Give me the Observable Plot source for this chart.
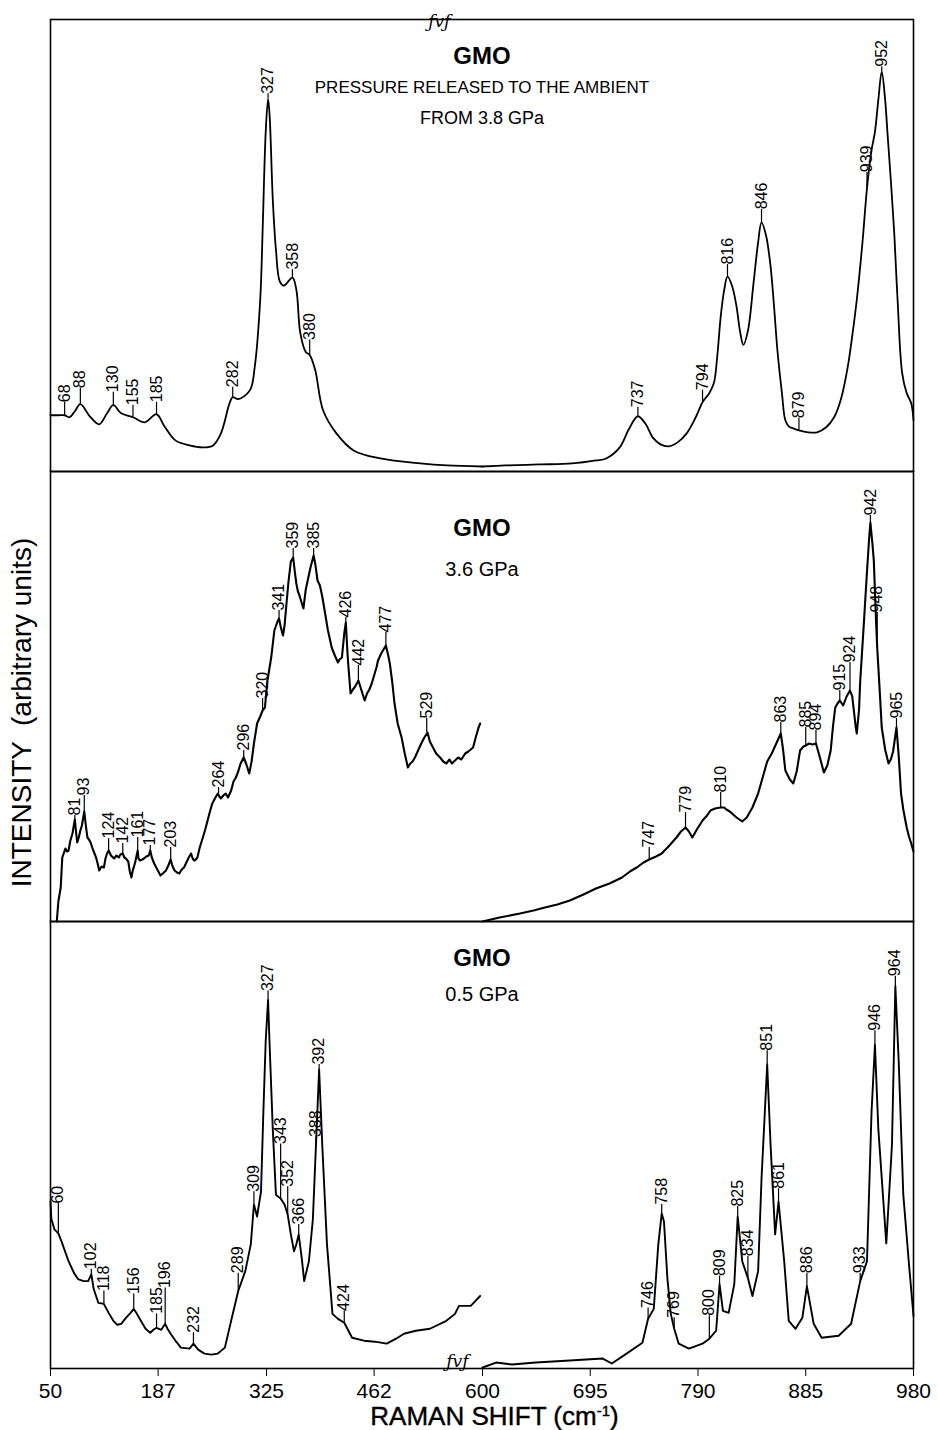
<!DOCTYPE html>
<html>
<head>
<meta charset="utf-8">
<script src="https://cdn.jsdelivr.net/npm/d3@7"></script>
<script src="https://cdn.jsdelivr.net/npm/@observablehq/plot@0.6"></script>
<style>
  body { margin: 0; background: #fff; }
  #chart { width: 938px; font-family: "Liberation Sans", Arial, sans-serif; color: #000; }
  #chart svg { display: block; overflow: visible; }
  #chart svg g[aria-label^="x-axis"] line { stroke-width: 1.6px; }
  #xlabel { height: 27px; line-height: 27px; font-size: 26px; margin-left: 76px; width: 837px; text-align: center; white-space: nowrap; -webkit-text-stroke: 0.4px #000; }
  #xlabel sup { font-size: 15px; line-height: 0; vertical-align: 9px; }
</style>
</head>
<body>
<div id="chart"></div>
<script>
// ---------- axis ----------
const xTicks = [50, 187, 325, 462, 600, 695, 790, 885, 980];
const xBreak = [50, 600, 980]; // broken axis: 50–600 | 600–980

// ---------- panel texts ----------
const panelNames = ["GMO", "GMO", "GMO"];
const ambientLines = ["PRESSURE RELEASED TO THE AMBIENT", "FROM 3.8 GPa"];
const midLine = "3.6 GPa";
const lowLine = "0.5 GPa";
const yLabel = "INTENSITY  (arbitrary units)";

// ---------- spectrum 1: pressure released to ambient from 3.8 GPa ----------
const ambientLow = [[50,56],[60,56],[68,56],[74,54],[81,60],[88,67],[100,55],[112,47],[122,58],[130,66],[140,58],[155,54],[170,49],[185,57],[195,45],[209,31],[227,26],[244,24],[257,26],[267,38],[278,68],[282,74],[289,72],[304,81],[310,104],[317,171],[320,238],[324,338],[327,371],[329,354],[333,271],[337,221],[342,189],[347,185],[358,193],[363,181],[368,138],[375,119],[380,116],[387,101],[397,61],[414,38],[436,21],[470,13],[521,8],[555,6],[600,5]];
const ambientHigh = [[600,5],[620,6],[650,7],[679,8],[700,11],[709,13],[721,24],[729,42],[737,55],[744,47],[750,34],[757,27],[764,25],[772,29],[780,38],[788,54],[794,69],[800,78],[804,88],[807,115],[810,154],[813,180],[816,194],[820,185],[824,164],[827,140],[830,126],[834,140],[839,188],[843,228],[846,248],[850,235],[854,204],[857,165],[860,121],[864,78],[867,51],[870,45],[874,43],[879,41],[887,39],[895,39],[903,44],[910,54],[916,72],[922,104],[926,135],[930,171],[935,228],[939,282],[943,320],[946,338],[949,370],[952,398],[955,370],[957,338],[960,290],[963,238],[966,170],[970,98],[974,78],[978,68],[980,51]];
const ambientPeaks = [[68,56,69],[88,67,83],[130,66,79],[155,54,66],[185,57,69],[282,74,84],[327,371,376],[358,193,201],[380,116,131],[737,55,64],[794,69,81],[816,194,206],[846,248,261],[879,41,53],[939,282,298],[952,398,403]];

// ---------- spectrum 2: 3.6 GPa ----------
const gpa36Low = [[58,0],[60,20],[63,34],[65,64],[69,73],[71,70],[73,71],[75,80],[78,88],[81,102],[83,86],[84,79],[86,84],[88,91],[90,96],[93,110],[95,96],[97,84],[99,82],[101,79],[104,72],[108,64],[110,58],[112,51],[115,55],[118,54],[120,63],[122,68],[124,71],[127,66],[131,63],[134,66],[137,64],[139,67],[142,68],[144,64],[146,63],[149,60],[151,50],[153,44],[155,52],[156,54],[158,60],[161,71],[162,63],[164,61],[167,62],[169,63],[172,65],[175,66],[177,71],[179,64],[182,58],[186,52],[190,46],[193,48],[197,51],[200,56],[203,62],[205,56],[208,51],[211,49],[214,48],[217,52],[220,54],[223,59],[226,64],[229,68],[231,63],[233,61],[235,62],[237,64],[240,74],[244,84],[247,92],[250,101],[253,110],[256,118],[260,124],[263,128],[265,125],[267,123],[270,126],[273,128],[276,124],[280,131],[283,140],[286,144],[289,150],[292,158],[296,164],[299,158],[303,148],[306,160],[309,178],[313,198],[317,205],[320,211],[323,214],[326,240],[331,264],[335,291],[339,300],[341,303],[343,295],[346,286],[348,296],[350,314],[353,340],[356,360],[359,364],[361,350],[363,338],[365,330],[367,326],[370,318],[372,313],[375,332],[378,343],[381,354],[385,366],[387,358],[390,341],[393,336],[396,325],[399,311],[403,292],[408,274],[412,266],[416,259],[418,262],[421,264],[424,288],[426,299],[428,270],[429,258],[432,228],[435,232],[437,234],[440,238],[442,241],[444,236],[446,231],[448,226],[450,221],[453,228],[456,232],[459,238],[462,246],[465,254],[467,261],[471,268],[474,272],[477,276],[480,266],[482,258],[485,240],[488,218],[492,198],[497,184],[501,168],[505,154],[508,158],[511,160],[514,164],[518,171],[522,178],[526,184],[530,189],[533,180],[537,174],[541,168],[546,164],[550,160],[554,158],[558,162],[561,158],[565,161],[569,164],[573,162],[578,168],[582,170],[585,172],[588,174],[591,183],[595,194],[597,198]];
const gpa36High = [[600,0],[615,4],[633,8],[645,11],[655,14],[666,17],[677,21],[689,27],[700,33],[712,38],[723,44],[730,50],[736,54],[742,59],[747,62],[753,65],[758,68],[764,75],[771,84],[775,90],[779,94],[782,90],[785,84],[789,92],[794,101],[798,106],[801,111],[805,113],[810,114],[813,114],[815,112],[818,110],[820,108],[824,104],[829,100],[833,104],[838,114],[843,128],[848,148],[851,160],[855,168],[859,178],[863,188],[865,172],[867,151],[871,142],[874,138],[877,150],[880,171],[883,175],[885,176],[888,178],[891,177],[894,178],[897,166],[901,149],[904,156],[907,171],[909,195],[911,214],[913,218],[915,221],[918,216],[921,225],[924,231],[926,225],[927,215],[929,195],[930,188],[932,212],[933,240],[936,294],[939,350],[941,385],[942,399],[944,375],[945,361],[947,300],[948,274],[950,235],[952,194],[955,172],[958,158],[960,162],[962,170],[965,194],[967,165],[969,128],[971,112],[974,94],[976,85],[978,78],[980,70]];
const gpa36Peaks = [[81,102,106],[93,110,126],[124,71,83],[142,68,78],[161,71,84],[177,71,76],[203,62,74],[264,128,134],[296,164,171],[320,211,223],[341,303,311],[359,364,373],[385,366,373],[426,299,304],[442,241,256],[477,276,289],[529,189,203],[747,62,74],[779,94,109],[810,114,129],[863,188,199],[885,176,194],[894,178,191],[915,221,231],[924,231,259],[942,399,406],[948,274,309],[965,194,203]];

// ---------- spectrum 3: 0.5 GPa ----------
const gpa05Low = [[50,168],[51,151],[55,140],[60,136],[64,128],[73,108],[80,96],[85,90],[92,88],[98,88],[102,95],[105,80],[111,66],[118,65],[124,56],[130,48],[135,44],[140,45],[146,51],[152,56],[156,60],[160,55],[165,48],[171,40],[177,36],[181,39],[185,41],[191,39],[196,45],[199,40],[203,35],[210,27],[216,21],[227,20],[232,25],[238,19],[246,15],[255,14],[263,15],[272,21],[280,48],[289,78],[298,98],[305,125],[309,165],[313,153],[318,178],[321,258],[324,330],[327,371],[329,325],[333,241],[337,175],[343,171],[348,165],[352,155],[356,135],[360,118],[363,125],[366,135],[370,110],[373,88],[379,108],[384,150],[388,225],[392,301],[396,225],[402,125],[409,55],[416,50],[424,46],[434,31],[449,28],[463,27],[478,25],[490,30],[500,35],[515,38],[533,40],[554,48],[565,55],[570,63],[585,63],[597,73]];
const gpa05High = [[600,1],[612,6],[626,4],[647,6],[677,8],[706,10],[714,5],[727,15],[741,26],[746,50],[751,60],[755,125],[758,156],[760,148],[763,91],[766,55],[769,40],[773,25],[782,20],[794,25],[800,30],[806,38],[809,85],[812,58],[817,56],[822,85],[825,153],[829,108],[834,91],[838,73],[843,98],[846,191],[851,306],[854,225],[858,135],[861,168],[866,108],[870,48],[876,40],[882,51],[886,83],[892,45],[899,31],[914,33],[925,45],[933,88],[939,108],[943,258],[946,326],[949,241],[956,126],[961,225],[964,385],[967,308],[971,175],[976,105],[980,53]];
const gpa05Peaks = [[60,136,166],[102,95,100],[118,65,78],[156,60,75],[185,41,55],[196,45,81],[232,25,36],[289,78,96],[309,165,178],[327,371,380],[343,171,226],[352,155,183],[366,135,145],[388,225,233],[392,301,306],[424,46,58],[746,50,61],[758,156,165],[769,40,51],[800,30,53],[809,85,93],[825,153,163],[834,91,113],[851,306,320],[861,168,181],[886,83,96],[933,88,96],[946,326,340],[964,385,395]];

// axis-break glyph positions (wavenumber on the left branch)
const breakTop = [545];
const breakBottom = [568];

// ---------- helpers ----------
const rowsOf = (low, high) => [
  ...low.map(([x, y]) => ({x, y, seg: "low"})),
  ...high.map(([x, y]) => ({x, y, seg: "high"}))
];

function peakMarks(peaks) {
  return [
    Plot.ruleX(peaks, {x: d => d[0], y1: d => d[1], y2: d => d[2], stroke: "black", strokeWidth: 1.2}),
    Plot.text(peaks, {x: d => d[0], y: d => d[2], text: d => String(d[0]), rotate: -90,
      textAnchor: "start", lineAnchor: "middle", fontSize: 16, fill: "black"})
  ];
}

function panel({rows, peaks, extra, height, marginTop, marginBottom, showAxis, curve, lineWidth}) {
  return Plot.plot({
    width: 938,
    height,
    marginLeft: 50,
    marginRight: 25,
    marginTop,
    marginBottom,
    style: {fontFamily: "Liberation Sans, Arial, sans-serif", fontSize: "21px", color: "black", background: "white", overflow: "visible"},
    x: {type: "linear", domain: xBreak, range: [50, 482, 913], axis: showAxis ? "bottom" : null,
        ticks: xTicks, tickSize: 8, tickPadding: 7, tickFormat: d => String(d), label: null},
    y: {domain: [0, 450], axis: null},
    marks: [
      Plot.line(rows, {x: "x", y: "y", z: "seg", stroke: "black", strokeWidth: lineWidth, strokeLinejoin: "round", curve}),
      ...peakMarks(peaks),
      ...extra,
      Plot.frame({stroke: "black", strokeWidth: 1.6})
    ]
  });
}

const breakGlyph = (data, anchor, dy) => Plot.text(data, {x: d => d, frameAnchor: anchor, text: () => "ƒvƒ", dy,
  fontSize: 17, fontStyle: "italic", fontFamily: "DejaVu Serif", fill: "black"});

const topPlot = panel({
  rows: rowsOf(ambientLow, ambientHigh), peaks: ambientPeaks, height: 471, marginTop: 19, marginBottom: 0,
  showAxis: false, curve: "catmull-rom", lineWidth: 1.8,
  extra: [
    Plot.text([panelNames[0]], {frameAnchor: "top", text: d => d, dy: 44, lineAnchor: "bottom", fontSize: 24, fontWeight: "bold"}),
    Plot.text([ambientLines[0]], {frameAnchor: "top", text: d => d, dy: 73, lineAnchor: "bottom", fontSize: 17, letterSpacing: "0.8px"}),
    Plot.text([ambientLines[1]], {frameAnchor: "top", text: d => d, dy: 104, lineAnchor: "bottom", fontSize: 18, letterSpacing: "1px"}),
    breakGlyph(breakTop, "top", -5)
  ]
});

const midPlot = panel({
  rows: rowsOf(gpa36Low, gpa36High), peaks: gpa36Peaks, height: 450, marginTop: 0, marginBottom: 0,
  showAxis: false, curve: "linear", lineWidth: 2.1,
  extra: [
    Plot.text([panelNames[1]], {frameAnchor: "top", text: d => d, dy: 64, lineAnchor: "bottom", fontSize: 24, fontWeight: "bold"}),
    Plot.text([midLine], {frameAnchor: "top", text: d => d, dy: 104, lineAnchor: "bottom", fontSize: 20, letterSpacing: "1.5px"}),
    Plot.text([yLabel], {frameAnchor: "left", text: d => d, rotate: -90, textAnchor: "middle", dx: -28, dy: 16, fontSize: 28, fill: "black"})
  ]
});

const lowPlot = panel({
  rows: rowsOf(gpa05Low, gpa05High), peaks: gpa05Peaks, height: 482, marginTop: 0, marginBottom: 35,
  showAxis: true, curve: "linear", lineWidth: 1.9,
  extra: [
    Plot.text([panelNames[2]], {frameAnchor: "top", text: d => d, dy: 44, lineAnchor: "bottom", fontSize: 24, fontWeight: "bold"}),
    Plot.text([lowLine], {frameAnchor: "top", text: d => d, dy: 79, lineAnchor: "bottom", fontSize: 20, letterSpacing: "1.5px"}),
    breakGlyph(breakBottom, "bottom", -2)
  ]
});

const chart = document.getElementById("chart");
chart.append(topPlot, midPlot, lowPlot);
const xl = document.createElement("div");
xl.id = "xlabel";
xl.innerHTML = "RAMAN SHIFT (cm<sup>-1</sup>)";
chart.append(xl);
</script>
</body>
</html>
